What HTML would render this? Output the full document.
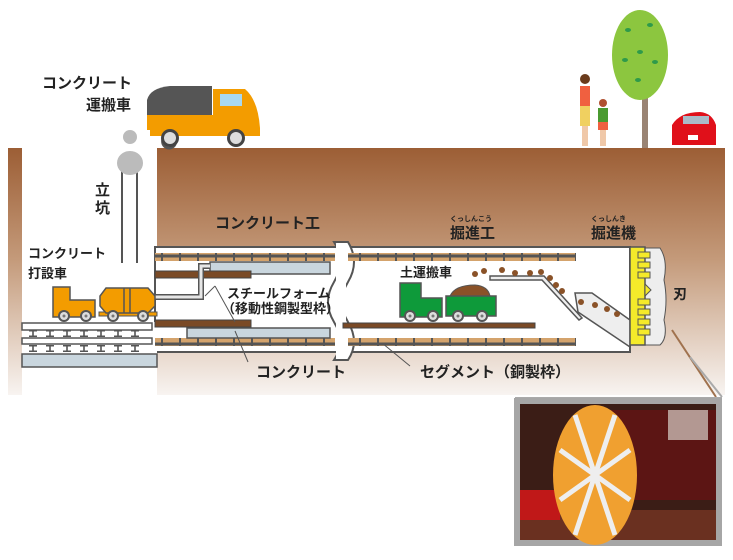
<!DOCTYPE html>
<html><head><meta charset="utf-8"><style>
body{margin:0;background:#fff;width:733px;height:560px;overflow:hidden}
svg{display:block}
text{font-family:"Liberation Sans","Noto Sans CJK JP",sans-serif;font-weight:bold;fill:#222}
</style></head><body>
<svg width="733" height="560" viewBox="0 0 733 560" xmlns="http://www.w3.org/2000/svg">
<defs>
<linearGradient id="g" x1="0" y1="0" x2="0" y2="1">
<stop offset="0" stop-color="#9c5e35"/><stop offset="0.45" stop-color="#c49a7a"/><stop offset="1" stop-color="#f8f4f1"/>
</linearGradient>
<pattern id="br" x="0" y="0" width="18" height="8" patternUnits="userSpaceOnUse">
<rect width="18" height="8" fill="#555"/><rect x="1" y="1.5" width="16" height="5" fill="#d4a36c"/>
</pattern>
<g id="wh"><circle r="6" fill="#555"/><circle r="4" fill="#ddd"/><circle r="1.5" fill="#777"/></g>
<g id="ib"><rect x="-4" y="0" width="8" height="1.5" fill="#555"/><rect x="-0.8" y="0" width="1.6" height="7" fill="#555"/><rect x="-4" y="5.5" width="8" height="1.5" fill="#555"/></g>
</defs>
<!-- ground -->
<rect x="8" y="148" width="14" height="247" fill="url(#g)"/>
<rect x="157" y="148" width="568" height="247" fill="url(#g)"/>
<rect x="8" y="355" width="717" height="40" fill="url(#g)" opacity="0"/>
<rect x="22" y="148" width="135" height="175" fill="#fff"/>
<!-- tunnel interior -->
<rect x="155" y="247" width="475" height="105" fill="#fff" stroke="#555" stroke-width="2"/>
<rect x="22" y="322" width="135" height="48" fill="#fff"/>
<!-- wavy break -->
<path d="M334 242 Q346 262 334 282 Q322 302 334 322 Q346 342 334 360 L348 360 Q360 342 348 322 Q336 302 348 282 Q360 262 348 242 Z" fill="#fff" stroke="#555" stroke-width="2"/>
<rect x="336" y="244" width="10" height="115" fill="#fff"/>
<!-- bricks -->
<rect x="155" y="253" width="180" height="8" fill="url(#br)"/>
<rect x="155" y="338" width="180" height="8" fill="url(#br)"/>
<rect x="348" y="253" width="228" height="8" fill="url(#br)"/>
<rect x="348" y="338" width="228" height="8" fill="url(#br)"/>
<!-- concrete -->
<rect x="210" y="262" width="120" height="12" fill="#c9d6de" stroke="#555" stroke-width="1.5"/>
<rect x="187" y="328" width="143" height="10" fill="#c9d6de" stroke="#555" stroke-width="1.5"/>
<rect x="155" y="271" width="96" height="7" fill="#7a4a26" stroke="#444" stroke-width="1"/>
<rect x="155" y="320" width="96" height="7" fill="#7a4a26" stroke="#444" stroke-width="1"/>
<rect x="343" y="323" width="192" height="5" fill="#7a4a26" stroke="#444" stroke-width="1"/>
<!-- pipe -->
<path d="M155 297 H201 V266 H210" fill="none" stroke="#555" stroke-width="6"/>
<path d="M155 297 H201 V266 H210" fill="none" stroke="#e6e6e6" stroke-width="3"/>
<!-- shaft -->
<line x1="122" y1="170" x2="122" y2="263" stroke="#555" stroke-width="2"/>
<line x1="137" y1="170" x2="137" y2="263" stroke="#555" stroke-width="2"/>
<circle cx="130" cy="137" r="7" fill="#bbb"/><ellipse cx="130" cy="163" rx="13" ry="12" fill="#bbb"/>
<!-- rails -->
<rect x="22" y="323" width="130" height="7" fill="#fff" stroke="#555" stroke-width="1.5"/>
<rect x="22" y="338" width="130" height="6" fill="#fff" stroke="#555" stroke-width="1.5"/>
<g>
<use href="#ib" x="33" y="330"/><use href="#ib" x="50" y="330"/><use href="#ib" x="67" y="330"/><use href="#ib" x="84" y="330"/><use href="#ib" x="101" y="330"/><use href="#ib" x="118" y="330"/><use href="#ib" x="135" y="330"/>
<use href="#ib" x="33" y="345"/><use href="#ib" x="50" y="345"/><use href="#ib" x="67" y="345"/><use href="#ib" x="84" y="345"/><use href="#ib" x="101" y="345"/><use href="#ib" x="118" y="345"/><use href="#ib" x="135" y="345"/>
</g>
<rect x="22" y="354" width="135" height="13" fill="#c9d6de" stroke="#555" stroke-width="1.5"/>
<!-- concrete placer -->
<path d="M53 287 H70 V300 H95 V317 H53 Z" fill="#f39c00" stroke="#555" stroke-width="1.5"/>
<rect x="99" y="312" width="58" height="4" fill="#f39c00" stroke="#555" stroke-width="1"/>
<path d="M106 288 H148 L155 296 V306 L148 313 H106 L100 306 V296 Z" fill="#f39c00" stroke="#555" stroke-width="1.5"/>
<line x1="124" y1="288" x2="124" y2="313" stroke="#555" stroke-width="1.5"/><line x1="130" y1="288" x2="130" y2="313" stroke="#555" stroke-width="1.5"/>
<use href="#wh" x="64" y="316"/><use href="#wh" x="86" y="316"/><use href="#wh" x="113" y="316"/><use href="#wh" x="143" y="316"/>
<!-- earth truck -->
<path d="M400 283 H421 V298 H442 V317 H400 Z" fill="#0e9a3a" stroke="#555" stroke-width="1.5"/>
<path d="M450 296 Q455 285 475 285 Q488 286 490 296 Z" fill="#8a5228" stroke="#555" stroke-width="1"/>
<rect x="446" y="296" width="50" height="20" fill="#0e9a3a" stroke="#555" stroke-width="1.5"/>
<use href="#wh" x="410" y="316"/><use href="#wh" x="433" y="316"/><use href="#wh" x="458" y="316"/><use href="#wh" x="482" y="316"/>
<!-- conveyor -->
<path d="M490 276 H544 L582 318 L579 320 L542 280 H490 Z" fill="#eee" stroke="#555" stroke-width="1.5"/>
<path d="M575 293 H592 L630 320 V347 L578 312 Z" fill="#eee" stroke="#555" stroke-width="1.5"/>
<g fill="#8a5228">
<circle cx="475" cy="274" r="3"/><circle cx="484" cy="271" r="3"/><circle cx="502" cy="270" r="3"/><circle cx="515" cy="273" r="3"/><circle cx="530" cy="273" r="3"/><circle cx="541" cy="272" r="3"/><circle cx="550" cy="278" r="3"/><circle cx="556" cy="285" r="3"/><circle cx="562" cy="291" r="3"/><circle cx="581" cy="302" r="3"/><circle cx="595" cy="305" r="3"/><circle cx="607" cy="309" r="3"/><circle cx="617" cy="314" r="3"/>
</g>
<!-- machine -->
<path d="M645 248 H660 Q668 260 664 280 Q668 300 664 320 Q668 338 660 345 H645 Z" fill="#eee" stroke="#555" stroke-width="1"/>
<rect x="630" y="247" width="15" height="98" fill="#f5ea2a" stroke="#555" stroke-width="1.5"/>
<g fill="#f5ea2a" stroke="#555" stroke-width="1">
<rect x="638" y="252" width="12" height="6"/><rect x="638" y="262" width="12" height="6"/><rect x="638" y="272" width="12" height="6"/><rect x="638" y="299" width="12" height="6"/><rect x="638" y="309" width="12" height="6"/><rect x="638" y="319" width="12" height="6"/><rect x="638" y="329" width="12" height="6"/>
</g>
<path d="M645 284 L651 290 L645 296 Z" fill="#f5ea2a" stroke="#555" stroke-width="1"/>
<!-- leaders -->
<g stroke="#555" stroke-width="1" fill="none">
<path d="M215 286 L235 322"/><path d="M215 286 L205 296"/>
<path d="M235 331 L248 362"/>
<path d="M382 343 L410 366"/>
</g>
<line x1="672" y1="330" x2="716" y2="397" stroke="#a0724e" stroke-width="2"/>
<line x1="690" y1="357" x2="722" y2="397" stroke="#aaa" stroke-width="2"/>
<line x1="515" y1="398" x2="722" y2="398" stroke="#aaa" stroke-width="2"/>
<!-- photo -->
<rect x="514" y="398" width="208" height="148" fill="#a6a6a6"/>
<rect x="520" y="404" width="196" height="136" fill="#3b1d16"/>
<rect x="600" y="410" width="116" height="90" fill="#5c1514"/>
<rect x="668" y="410" width="40" height="30" fill="#d8d0c8" opacity="0.7"/>
<rect x="520" y="510" width="196" height="30" fill="#6a3020"/>
<rect x="520" y="490" width="40" height="30" fill="#c01818"/>
<ellipse cx="595" cy="475" rx="42" ry="70" fill="#f0a030"/>
<g stroke="#eee" stroke-width="5"><line x1="575" y1="415" x2="615" y2="535"/><line x1="560" y1="450" x2="630" y2="500"/><line x1="560" y1="500" x2="630" y2="450"/><line x1="615" y1="415" x2="575" y2="535"/></g>
<!-- surface truck -->
<path d="M147 100 Q150 88 170 86 H212 V128 H147 Z" fill="#555"/>
<rect x="147" y="115" width="66" height="15" fill="#f39c00"/>
<path d="M213 89 H245 Q258 100 260 128 H213 Z" fill="#f39c00"/>
<rect x="220" y="94" width="22" height="12" fill="#a8d8f0"/>
<rect x="150" y="128" width="110" height="8" fill="#f39c00"/>
<use href="#wh" x="170" y="138" transform="translate(-57 -42) scale(1.33)"/>
<circle cx="170" cy="138" r="9" fill="#444"/><circle cx="170" cy="138" r="6" fill="#ddd"/>
<circle cx="236" cy="138" r="9" fill="#444"/><circle cx="236" cy="138" r="6" fill="#ddd"/>
<!-- people, tree, car -->
<rect x="642" y="95" width="6" height="53" fill="#9a8474"/>
<ellipse cx="640" cy="55" rx="28" ry="45" fill="#8cc63f"/>
<g fill="#2f9a4a"><ellipse cx="628" cy="30" rx="3" ry="2"/><ellipse cx="650" cy="25" rx="3" ry="2"/><ellipse cx="640" cy="52" rx="3" ry="2"/><ellipse cx="625" cy="60" rx="3" ry="2"/><ellipse cx="655" cy="62" rx="3" ry="2"/><ellipse cx="638" cy="80" rx="3" ry="2"/></g>
<circle cx="585" cy="79" r="5" fill="#6b3b1c"/>
<rect x="580" y="86" width="10" height="20" fill="#f06040"/>
<rect x="580" y="106" width="10" height="20" fill="#f0d060"/>
<rect x="582" y="126" width="6" height="20" fill="#f0c8a8"/>
<circle cx="603" cy="103" r="4" fill="#b05030"/>
<rect x="598" y="108" width="10" height="14" fill="#4a9a30"/>
<rect x="598" y="122" width="10" height="8" fill="#f06040"/>
<rect x="600" y="130" width="6" height="16" fill="#f0c8a8"/>
<path d="M672 138 V125 Q680 112 700 112 Q712 113 716 125 V145 H672 Z" fill="#e0101a"/>
<rect x="683" y="116" width="26" height="8" fill="#aabbc8"/>
<rect x="688" y="135" width="10" height="5" fill="#fff"/>
<!-- labels -->
<text x="42" y="88" font-size="15">コンクリート</text>
<text x="86" y="110" font-size="15">運搬車</text>
<text x="95" y="195" font-size="15">立</text>
<text x="95" y="213" font-size="15">坑</text>
<text x="28" y="258" font-size="13">コンクリート</text>
<text x="28" y="278" font-size="13">打設車</text>
<text x="215" y="228" font-size="15">コンクリート工</text>
<text x="450" y="221" font-size="7" font-weight="normal">くっしんこう</text>
<text x="450" y="238" font-size="15">掘進工</text>
<text x="591" y="221" font-size="7" font-weight="normal">くっしんき</text>
<text x="591" y="238" font-size="15">掘進機</text>
<text x="673" y="299" font-size="14">刃</text>
<text x="400" y="277" font-size="13">土運搬車</text>
<text x="227" y="298" font-size="13" font-weight="normal">スチールフォーム</text>
<text x="222" y="313" font-size="13" font-weight="normal">（移動性鋼製型枠）</text>
<text x="256" y="377" font-size="15">コンクリート</text>
<text x="420" y="377" font-size="15">セグメント（銅製枠）</text>
</svg>
</body></html>
